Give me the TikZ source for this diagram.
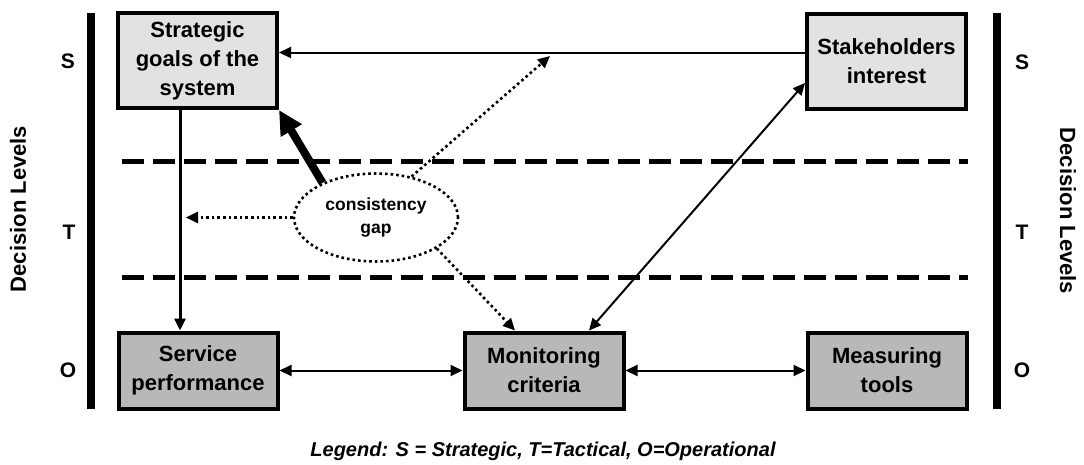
\documentclass[tikz,border=0pt]{standalone}
\usepackage{fontspec}
\setmainfont{Liberation Sans}
\usetikzlibrary{arrows.meta,shapes.geometric}
\definecolor{boxlight}{HTML}{E2E2E2}
\definecolor{boxdark}{HTML}{B8B8B8}
\begin{document}
\begin{tikzpicture}[x=1pt,y=-1pt,
  box/.style={draw, line width=4pt, align=center, inner sep=2pt,
    font=\fontsize{22}{29}\selectfont\bfseries},
  upper/.style={box, fill=boxlight, minimum width=159pt, minimum height=95pt},
  lower/.style={box, fill=boxdark, minimum width=159pt, minimum height=76pt},
  conn/.style={line width=2pt, -{Triangle[length=12pt,width=11pt]}},
  biconn/.style={line width=2pt, {Triangle[length=12pt,width=11pt]}-{Triangle[length=12pt,width=11pt]}},
  dots/.style={line width=2.6pt, dash pattern=on 2.6pt off 3pt,
    -{Triangle[length=12pt,width=11pt]}},
  bold/.style={line width=8pt, -{Triangle[length=24pt,width=23pt]}},
  bar/.style={line width=7.5pt},
  levelsep/.style={line width=5pt, dash pattern=on 22pt off 9pt},
  level/.style={font=\fontsize{21}{25}\selectfont\bfseries},
  axis/.style={font=\fontsize{22}{26}\selectfont\bfseries},
]
\useasboundingbox (0,0) rectangle (1084,464);

% side bars
\coordinate (lbtop) at (91,13);
\coordinate (lbbot) at (91,409);
\coordinate (rbtop) at (997,13);
\coordinate (rbbot) at (997,409);
\draw[bar] (lbtop) -- (lbbot);
\draw[bar] (rbtop) -- (rbbot);

% boundaries between decision levels
\coordinate (st1) at (122,161);
\coordinate (st2) at (968,161);
\coordinate (to1) at (122,277);
\coordinate (to2) at (968,277);
\draw[levelsep] (st1) -- (st2);
\draw[levelsep] (to1) -- (to2);

% level labels
\node[level] (ls) at (68,61) {S};
\node[level] (lt) at (69,232) {T};
\node[level] (lo) at (68,370) {O};
\node[level] (rs) at (1022,62) {S};
\node[level] (rt) at (1022,232) {T};
\node[level] (ro) at (1022,370) {O};
\node[axis, rotate=90] (dl) at (18,209) {Decision Levels};
\node[axis, rotate=-90] (dr) at (1068,211) {Decision Levels};

% boxes
\node[upper] (strat) at (197.5,60.5) {Strategic\\goals of the\\system};
\node[upper] (stake) at (886.5,61) {Stakeholders\\interest};
\node[lower] (svc) at (198,370.5) {Service\\performance};
\node[lower] (mon) at (544,370.5) {Monitoring\\criteria};
\node[lower] (meas) at (887,370.5) {Measuring\\tools};

% consistency gap
\node[ellipse, draw, line width=2.6pt, dash pattern=on 2.6pt off 3pt,
  minimum width=164pt, minimum height=88pt, inner sep=0pt,
  align=center, font=\fontsize{17.5}{23}\selectfont\bfseries]
  (gap) at (376,217.5) {consistency\\gap};

\coordinate (tdot) at (186,217.5);
\coordinate (sdot) at (550,56);

% connectors
\draw[conn] ([yshift=8.5pt]stake.west) -- ([yshift=8.5pt]stake.west -| strat.east);
\draw[conn, line width=3pt] ([xshift=-17.5pt]strat.south) -- ([xshift=-18pt]svc.north);
\draw[biconn] (svc.east) -- (mon.west);
\draw[biconn] (mon.east) -- (meas.west);
\draw[biconn] ([xshift=45pt]mon.north) -- ([yshift=-22pt]stake.west);
\draw[bold] (gap.147) -- (strat.south east);
\draw[dots] (gap.west) -- (tdot);
\draw[dots] (gap.49) -- (sdot);
\draw[dots] (gap.-27) -- ([xshift=-29pt]mon.north);

% legend
\node[font=\fontsize{20}{24}\selectfont\bfseries\itshape] (legend) at (543,451)
  {Legend: S = Strategic, T=Tactical, O=Operational};
\end{tikzpicture}
\end{document}
